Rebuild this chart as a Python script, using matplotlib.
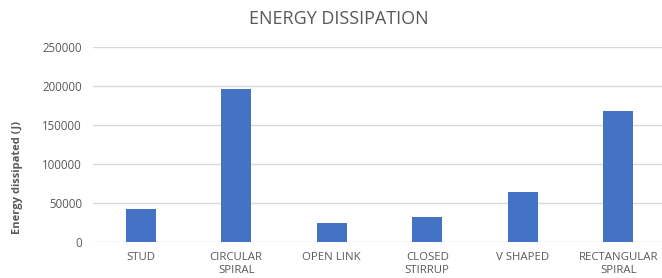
import matplotlib.pyplot as plt
import numpy as np

categories = ["STUD", "CIRCULAR\nSPIRAL", "OPEN LINK", "CLOSED\nSTIRRUP", "V SHAPED", "RECTANGULAR\nSPIRAL"]
energy = [43000, 196500, 24400, 33000, 64500, 168300]
yticks = [0, 50000, 100000, 150000, 200000, 250000]

grey = "#595959"
plt.rcParams['font.family'] = ['Open Sans', 'DejaVu Sans']

fig = plt.figure(figsize=(6.62, 2.78), dpi=100)
ax = fig.add_axes([93/662, 1 - 242.3/278, 573/662, 195/278])

x = np.arange(len(categories))
ax.bar(x, energy, width=0.31, color="#4472C4", zorder=3)

ax.set_xlim(-0.5, len(categories) - 0.5)
ax.set_ylim(0, 250000)
ax.set_yticks(yticks)
ax.set_yticklabels([str(v) for v in yticks])
ax.set_xticks(x)
ax.set_xticklabels(categories, linespacing=1.3)
ax.grid(axis='y', color="#d9d9d9", lw=1, zorder=0)
for s in ax.spines.values():
    s.set_visible(False)
ax.tick_params(axis='y', length=0, pad=8, labelsize=8.3, labelcolor=grey)
ax.tick_params(axis='x', length=0, pad=7, labelsize=8.2, labelcolor=grey)

fig.text(18/662, 1 - 177/278, "Energy dissipated (J)", rotation=90, ha='center', va='center',
         fontsize=8, fontweight='bold', color=grey)
fig.text(339/662, 1 - 19/278, "ENERGY DISSIPATION", ha='center', va='center', fontsize=13, color=grey)

fig.savefig("out.png", dpi=100)
